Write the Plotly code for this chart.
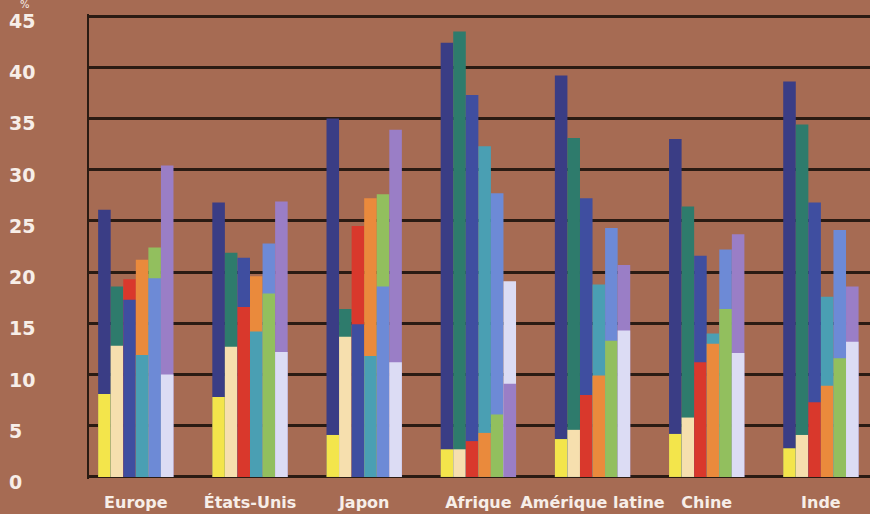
import plotly.graph_objects as go

# ---- data ----
categories = ["Europe", "États-Unis", "Japon", "Afrique", "Amérique latine", "Chine", "Inde"]

s_yellow   = [8.1, 7.8, 4.1, 2.7, 3.7, 4.2, 2.8]
s_navy     = [26.1, 26.8, 35.0, 42.4, 39.2, 33.0, 38.6]
s_cream    = [12.8, 12.7, 13.7, 2.7, 4.6, 5.8, 4.1]
s_teal     = [18.6, 21.9, 16.4, 43.5, 33.1, 26.4, 34.4]
s_blue     = [17.3, 21.4, 14.9, 37.3, 27.2, 21.6, 26.8]
s_red      = [19.3, 16.6, 24.5, 3.5, 8.0, 11.2, 7.3]
s_cyan     = [11.9, 14.2, 11.8, 32.3, 18.8, 14.0, 17.6]
s_orange   = [21.2, 19.6, 27.2, 4.3, 9.9, 13.0, 8.9]
s_ltblue   = [19.4, 22.8, 18.6, 27.7, 24.3, 22.2, 24.1]
s_green    = [22.4, 17.9, 27.6, 6.1, 13.3, 16.4, 11.6]
s_lavender = [10.0, 12.2, 11.2, 19.1, 14.3, 12.1, 13.2]
s_purple   = [30.4, 26.9, 33.9, 9.1, 20.7, 23.7, 18.6]

y_ticks = [0, 5, 10, 15, 20, 25, 30, 35, 40, 45]

# ---- styles ----
BG = "#a66b53"
GRID = "#2a1b13"
TXT = "#f7eee8"
FONT = "DejaVu Sans"

pairs = [
    ((s_yellow, "#f3e54b"), (s_navy, "#3a3d85")),
    ((s_cream, "#f6dfae"), (s_teal, "#2e7b6c")),
    ((s_blue, "#3f4ea0"), (s_red, "#d9382c")),
    ((s_cyan, "#4a9fb3"), (s_orange, "#ea8a3c")),
    ((s_ltblue, "#6d8ad6"), (s_green, "#92bf5e")),
    ((s_lavender, "#dcdcf4"), (s_purple, "#9a7ec6")),
]

fig = go.Figure()
for gi, ((a, ca), (b, cb)) in enumerate(pairs):
    back_y = [max(u, v) for u, v in zip(a, b)]
    back_c = [ca if u >= v else cb for u, v in zip(a, b)]
    front_y = [min(u, v) for u, v in zip(a, b)]
    front_c = [ca if u < v else cb for u, v in zip(a, b)]
    for ys, cs in ((back_y, back_c), (front_y, front_c)):
        fig.add_trace(go.Bar(
            x=categories, y=ys, offsetgroup=str(gi),
            marker=dict(color=cs, line=dict(width=0)),
            showlegend=False, hoverinfo="x+y",
        ))

annotations = []
for v in y_ticks:
    annotations.append(dict(
        x=0, xref="paper", y=v, yref="y", text=f"<b>{v}</b>",
        showarrow=False, xanchor="left", yanchor="middle", xshift=-82, yshift=-5,
        font=dict(family=FONT, size=19, color=TXT),
    ))
annotations.append(dict(
    x=0, xref="paper", y=1, yref="paper", text="%",
    showarrow=False, xanchor="left", yanchor="middle", xshift=-71, yshift=10,
    font=dict(family=FONT, size=10, color=TXT),
))

fig.update_layout(
    width=870, height=514,
    margin=dict(l=89, r=0, t=14, b=35, autoexpand=False),
    paper_bgcolor=BG, plot_bgcolor=BG,
    barmode="group", bargap=0.34, bargroupgap=0,
    annotations=annotations,
    xaxis=dict(
        type="category", range=[-0.41, 6.43], automargin=False,
        showgrid=False, zeroline=False, showline=False, ticks="",
        tickfont=dict(family=FONT, size=16, color=TXT, weight="bold"),
        ticklabelstandoff=12,
    ),
    yaxis=dict(
        range=[-0.2, 45.2], tickvals=y_ticks, showticklabels=False, automargin=False,
        showgrid=True, gridcolor=GRID, gridwidth=2.5, zeroline=False,
        showline=True, linecolor=GRID, linewidth=2, ticks="",
    ),
)

fig.write_html(
    "out.html",
    config={"displayModeBar": False},
    post_script="document.body.style.margin='0';document.body.style.overflow='hidden';"
                "document.body.style.background='" + BG + "';",
)
